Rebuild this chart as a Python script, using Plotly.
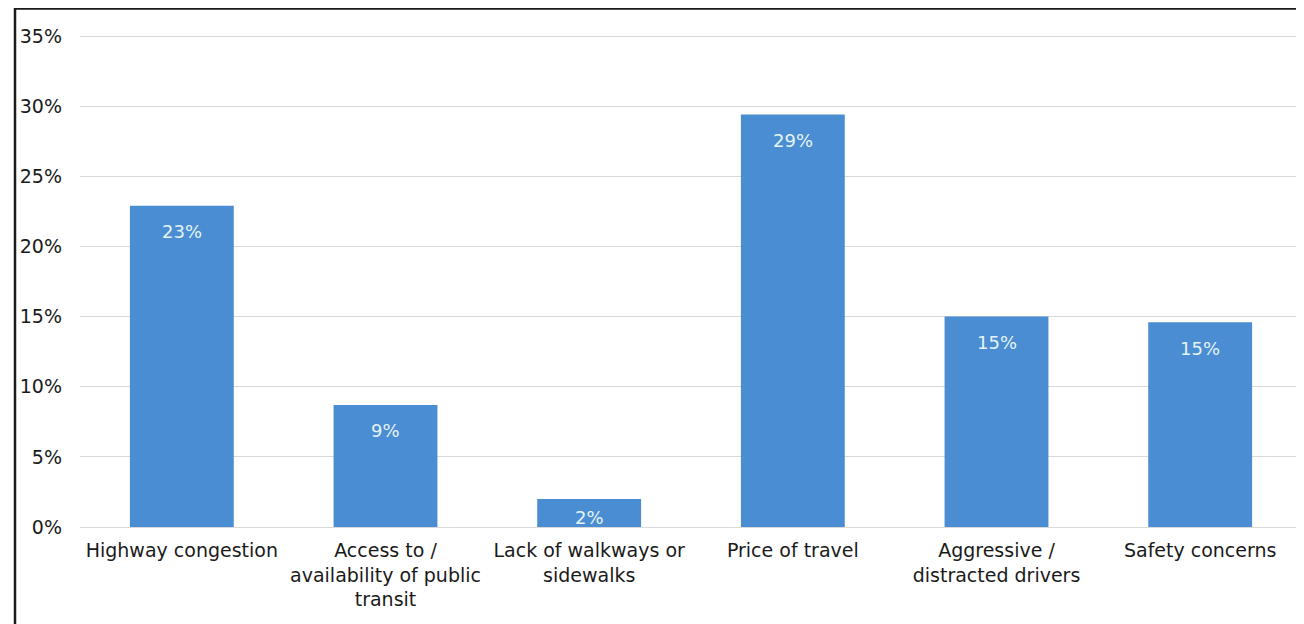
import plotly.graph_objects as go

categories = [
    "Highway congestion",
    "Access to /<br>availability of public<br>transit",
    "Lack of walkways or<br>sidewalks",
    "Price of travel",
    "Aggressive /<br>distracted drivers",
    "Safety concerns",
]
values = [22.9, 8.7, 2.0, 29.4, 15.0, 14.6]
value_labels = ["23%", "9%", "2%", "29%", "15%", "15%"]
y_ticks = [0, 5, 10, 15, 20, 25, 30, 35]
y_tick_text = ["0%", "5%", "10%", "15%", "20%", "25%", "30%", "35%"]

# page has an 8px body margin, so figure is 8px smaller and offsets reduced
W, H = 1296, 616
ML, MR, MT, MB = 72, 2, 14, 97
plot_h = H - MT - MB
YMAX = 36
px_per_unit = plot_h / YMAX

font_family = "DejaVu Sans"

fig = go.Figure()
fig.add_trace(go.Bar(
    x=categories,
    y=values,
    marker=dict(color="#4a8dd3", line=dict(width=0)),
    hoverinfo="x+y",
))

for c, v, t in zip(categories, values, value_labels):
    shift = -min(26, v * px_per_unit - 9)
    fig.add_annotation(
        x=c, y=v, text=t, showarrow=False, yshift=shift,
        xref="x", yref="y",
        font=dict(family=font_family, size=18, color="#e4f3f3"),
    )

plot_w = W - ML - MR
fig.add_shape(
    type="rect", xref="paper", yref="paper",
    x0=(7 - ML) / plot_w, x1=(W + 20 - ML) / plot_w,
    y0=-(H + 20 - MT - plot_h) / plot_h, y1=(MT - 0.5 + plot_h) / plot_h,
    line=dict(color="#1a1a1a", width=2.5), fillcolor="rgba(0,0,0,0)",
    layer="above",
)

fig.update_layout(
    width=W, height=H,
    margin=dict(l=ML, r=MR, t=MT, b=MB),
    paper_bgcolor="white", plot_bgcolor="white",
    bargap=0.49,
    showlegend=False,
    font=dict(family=font_family, size=19, color="#1a1a1a"),
)
fig.update_xaxes(
    showgrid=False, showline=False, zeroline=False, ticks="",
    tickfont=dict(family=font_family, size=19, color="#1a1a1a"),
    tickangle=0, ticklabelstandoff=10,
)
fig.update_yaxes(
    range=[0, YMAX], tickvals=y_ticks, ticktext=y_tick_text,
    showgrid=True, gridcolor="#d9d9d9", gridwidth=1.2,
    zeroline=True, zerolinecolor="#d9d9d9", zerolinewidth=1.2,
    showline=False, ticks="", ticklabelstandoff=17,
    tickfont=dict(family=font_family, size=19, color="#1a1a1a"),
)

fig.write_html("out.html")
